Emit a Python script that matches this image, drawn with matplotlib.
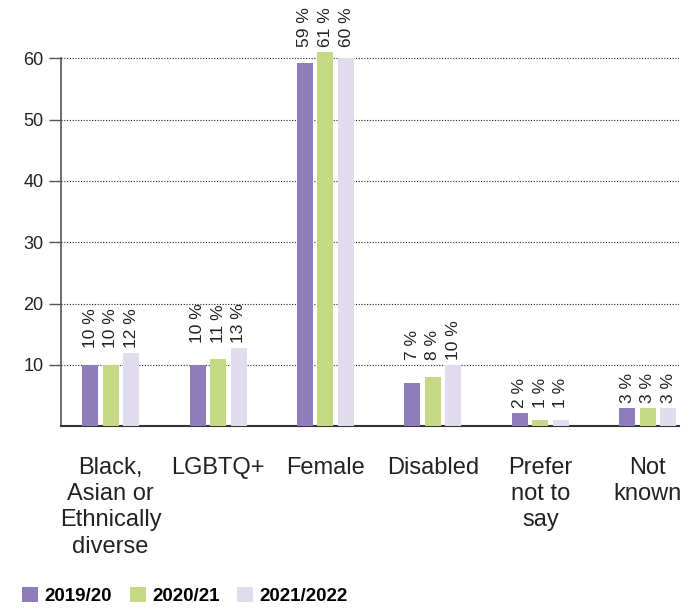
import matplotlib.pyplot as plt
from matplotlib.patches import Patch
import numpy as np

# data
categories = ['Black,\nAsian or\nEthnically\ndiverse', 'LGBTQ+', 'Female', 'Disabled',
              'Prefer\nnot to\nsay', 'Not\nknown']
years = ['2019/20', '2020/21', '2021/2022']
values_1920 = [10, 10, 59.3, 7, 2.1, 3]
values_2021 = [10, 11, 61, 8, 1.1, 3]
values_2122 = [12, 12.8, 60.1, 10, 0.95, 3]
labels_1920 = [10, 10, 59, 7, 2, 3]
labels_2021 = [10, 11, 61, 8, 1, 3]
labels_2122 = [12, 13, 60, 10, 1, 3]
colors = ['#8e7dba', '#c5d985', '#e0dcee']

plt.rcParams['font.family'] = ['Liberation Sans', 'DejaVu Sans']

fig = plt.figure(figsize=(6.96, 6.08), dpi=100)
ax = fig.add_axes([0.0877, 0.2989, 0.8883, 0.6255])

x = np.arange(len(categories))
width = 0.149
step = 0.191
series = [values_1920, values_2021, values_2122]
labels = [labels_1920, labels_2021, labels_2122]

for k in range(3):
    ax.bar(x + (k - 1) * step, series[k], width, color=colors[k], zorder=3)

# value labels sit at a common level per group
for i in range(len(categories)):
    top = max(s[i] for s in series) + 0.8
    for k in range(3):
        ax.text(x[i] + (k - 1) * step, top, str(labels[k][i]) + ' %', rotation=90,
                ha='center', va='bottom', fontsize=12.5, color='#222222', clip_on=False)

ax.set_xlim(-0.462, 5.294)
ax.set_ylim(0, 62)
ax.set_yticks([10, 20, 30, 40, 50, 60])
ax.yaxis.grid(True, linestyle=(0, (1, 1.5)), color='#222222', linewidth=0.8, zorder=0)
ax.set_xticks(x)
ax.set_xticklabels(categories, fontsize=17, color='#222222', linespacing=1.25)
ax.tick_params(axis='x', length=0, pad=22)
ax.tick_params(axis='y', length=8.6, width=1.0, color='#555555', pad=4,
               labelsize=13, labelcolor='#222222', direction='out')

for side in ['top', 'right']:
    ax.spines[side].set_visible(False)
ax.spines['left'].set_bounds(0, 60)
ax.spines['left'].set_color('#555555')
ax.spines['left'].set_linewidth(1.2)
ax.spines['bottom'].set_color('#333333')
ax.spines['bottom'].set_linewidth(1.5)

handles = [Patch(facecolor=c, edgecolor='none') for c in colors]
fig.legend(handles, years, loc='lower left', bbox_to_anchor=(22 / 696, 3 / 608),
           ncol=3, frameon=False, borderpad=0, borderaxespad=0,
           handlelength=0.86, handleheight=0.86, handletextpad=0.33,
           columnspacing=0.95, prop={'weight': 'bold', 'size': 13.5})

fig.savefig('out.png', dpi=100)
